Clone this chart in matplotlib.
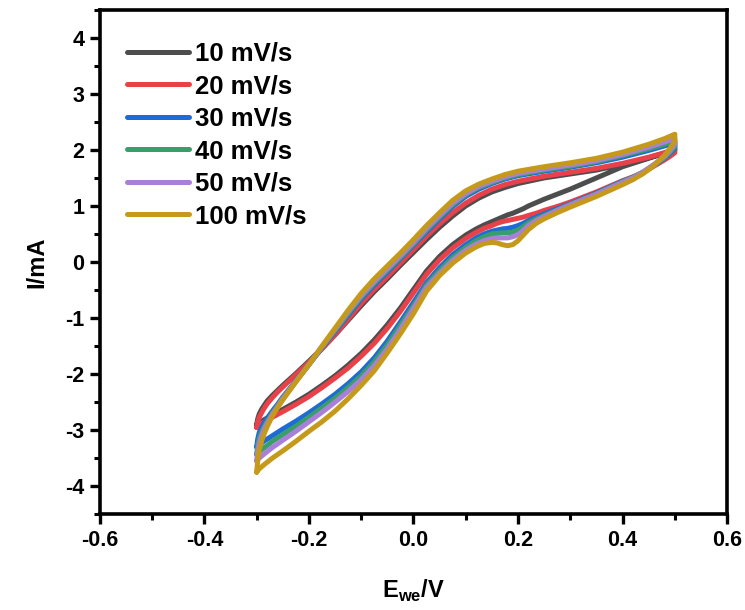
import numpy as np
import matplotlib.pyplot as plt
from matplotlib.ticker import MultipleLocator, FormatStrFormatter

plt.rcParams['font.family'] = ['Liberation Sans', 'DejaVu Sans']
plt.rcParams['font.weight'] = 'bold'
plt.rcParams['axes.unicode_minus'] = False

labels = ['10 mV/s', '20 mV/s', '30 mV/s', '40 mV/s', '50 mV/s', '100 mV/s']
colors = ['#4d4d4d', '#e8414a', '#1f6bd6', '#3a9e6b', '#a97fd8', '#c59a1a']

# forward branch (-0.3 -> 0.5)
x_fwd = [-0.3, -0.298, -0.295, -0.29, -0.285, -0.28, -0.27, -0.26, -0.25, -0.225,
         -0.2, -0.175, -0.15, -0.125, -0.1, -0.075, -0.05, -0.025, 0.0, 0.025,
         0.05, 0.075, 0.1, 0.125, 0.15, 0.175, 0.2, 0.25, 0.3, 0.35,
         0.4, 0.45, 0.48, 0.5]
i10_fwd = [-2.9, -2.8, -2.71, -2.62, -2.55, -2.48, -2.38, -2.29, -2.2, -1.99,
           -1.77, -1.54, -1.3, -1.04, -0.78, -0.53, -0.3, -0.06, 0.17, 0.4,
           0.62, 0.82, 1.0, 1.14, 1.25, 1.33, 1.4, 1.5, 1.57, 1.64,
           1.74, 1.86, 1.94, 2.0]
i20_fwd = [-2.95, -2.86, -2.77, -2.68, -2.6, -2.53, -2.42, -2.32, -2.23, -2.01,
           -1.79, -1.55, -1.3, -1.02, -0.74, -0.49, -0.26, -0.02, 0.22, 0.46,
           0.68, 0.88, 1.05, 1.19, 1.3, 1.38, 1.44, 1.53, 1.6, 1.67,
           1.76, 1.87, 1.95, 2.02]
i30_fwd = [-3.3, -3.16, -3.04, -2.94, -2.86, -2.79, -2.66, -2.54, -2.41, -2.12,
           -1.83, -1.53, -1.24, -0.95, -0.66, -0.41, -0.18, 0.06, 0.3, 0.54,
           0.77, 0.99, 1.17, 1.3, 1.4, 1.48, 1.54, 1.62, 1.69, 1.77,
           1.87, 1.99, 2.07, 2.12]
i40_fwd = [-3.43, -3.28, -3.14, -3.02, -2.93, -2.85, -2.7, -2.57, -2.43, -2.13,
           -1.83, -1.52, -1.22, -0.92, -0.63, -0.38, -0.15, 0.08, 0.32, 0.57,
           0.8, 1.02, 1.2, 1.33, 1.42, 1.5, 1.56, 1.64, 1.71, 1.79,
           1.9, 2.02, 2.1, 2.16]
i50_fwd = [-3.55, -3.38, -3.22, -3.08, -2.97, -2.88, -2.72, -2.58, -2.44, -2.13,
           -1.83, -1.51, -1.2, -0.89, -0.6, -0.35, -0.12, 0.11, 0.35, 0.6,
           0.83, 1.05, 1.22, 1.35, 1.44, 1.52, 1.58, 1.66, 1.73, 1.81,
           1.92, 2.05, 2.14, 2.2]
i100_fwd = [-3.75, -3.55, -3.35, -3.18, -3.05, -2.94, -2.75, -2.6, -2.46, -2.14,
            -1.83, -1.5, -1.18, -0.86, -0.56, -0.3, -0.07, 0.16, 0.4, 0.65,
            0.88, 1.1, 1.27, 1.39, 1.48, 1.56, 1.62, 1.7, 1.77, 1.85,
            1.96, 2.1, 2.2, 2.28]

# reverse branch (0.5 -> -0.3)
x_rev = [0.5, 0.49, 0.48, 0.46, 0.44, 0.42, 0.4, 0.35, 0.3, 0.275,
         0.25, 0.235, 0.22, 0.21, 0.2, 0.19, 0.18, 0.17, 0.16, 0.15,
         0.135, 0.12, 0.1, 0.075, 0.05, 0.025, 0.0, -0.025, -0.05, -0.075,
         -0.1, -0.125, -0.15, -0.175, -0.2, -0.225, -0.25, -0.27, -0.285, -0.295,
         -0.3]
i10_rev = [2.0, 1.97, 1.94, 1.88, 1.82, 1.76, 1.7, 1.5, 1.3, 1.21,
           1.12, 1.06, 1.0, 0.95, 0.91, 0.87, 0.84, 0.8, 0.76, 0.72,
           0.66, 0.59, 0.48, 0.31, 0.1, -0.16, -0.49, -0.82, -1.12, -1.39,
           -1.63, -1.84, -2.03, -2.2, -2.36, -2.5, -2.63, -2.73, -2.81, -2.87,
           -2.9]
i20_rev = [1.95, 1.88, 1.82, 1.71, 1.6, 1.52, 1.45, 1.25, 1.07, 0.99,
           0.92, 0.87, 0.83, 0.8, 0.78, 0.76, 0.74, 0.72, 0.69, 0.65,
           0.6, 0.53, 0.42, 0.25, 0.04, -0.22, -0.55, -0.88, -1.18, -1.45,
           -1.68, -1.89, -2.07, -2.24, -2.4, -2.54, -2.67, -2.77, -2.85, -2.91,
           -2.95]
i30_rev = [2.02, 1.93, 1.85, 1.72, 1.6, 1.51, 1.44, 1.23, 1.04, 0.95,
           0.86, 0.8, 0.74, 0.69, 0.65, 0.62, 0.6, 0.59, 0.57, 0.55,
           0.5, 0.43, 0.31, 0.13, -0.1, -0.37, -0.72, -1.07, -1.41, -1.71,
           -1.96, -2.17, -2.36, -2.53, -2.69, -2.84, -2.98, -3.1, -3.19, -3.26,
           -3.3]
i40_rev = [2.05, 1.95, 1.86, 1.73, 1.61, 1.51, 1.43, 1.22, 1.03, 0.93,
           0.83, 0.77, 0.7, 0.63, 0.57, 0.53, 0.52, 0.52, 0.51, 0.5,
           0.45, 0.38, 0.26, 0.08, -0.15, -0.41, -0.78, -1.13, -1.48, -1.78,
           -2.03, -2.24, -2.43, -2.6, -2.77, -2.93, -3.08, -3.2, -3.31, -3.38,
           -3.43]
i50_rev = [2.1, 1.98, 1.88, 1.74, 1.61, 1.5, 1.42, 1.21, 1.02, 0.92,
           0.81, 0.74, 0.65, 0.56, 0.49, 0.45, 0.43, 0.43, 0.43, 0.42,
           0.38, 0.32, 0.21, 0.03, -0.2, -0.45, -0.83, -1.2, -1.55, -1.85,
           -2.1, -2.31, -2.5, -2.68, -2.85, -3.02, -3.18, -3.31, -3.42, -3.5,
           -3.55]
i100_rev = [2.15, 2.02, 1.9, 1.72, 1.58, 1.47, 1.38, 1.17, 0.98, 0.88,
            0.77, 0.69, 0.58, 0.48, 0.38, 0.31, 0.29, 0.31, 0.34, 0.35,
            0.33, 0.27, 0.16, -0.02, -0.24, -0.52, -0.92, -1.28, -1.62, -1.94,
            -2.2, -2.44, -2.66, -2.85, -3.02, -3.2, -3.37, -3.5, -3.61, -3.69,
            -3.75]

fwd = [i10_fwd, i20_fwd, i30_fwd, i40_fwd, i50_fwd, i100_fwd]
rev = [i10_rev, i20_rev, i30_rev, i40_rev, i50_rev, i100_rev]

fig = plt.figure(figsize=(7.45, 6.1), dpi=100)
ax = fig.add_axes([0.134, 0.157, 0.842, 0.827])

for lab, col, f, r in zip(labels, colors, fwd, rev):
    xs = np.concatenate([x_fwd, x_rev])
    ys = np.concatenate([f, r])
    ax.plot(xs, ys, color=col, lw=3.6, label=lab, solid_joinstyle='round',
            solid_capstyle='round')

ax.set_xlim(-0.6, 0.6)
ax.set_ylim(-4.5, 4.5)
ax.xaxis.set_major_locator(MultipleLocator(0.2))
ax.xaxis.set_minor_locator(MultipleLocator(0.1))
ax.yaxis.set_major_locator(MultipleLocator(1))
ax.yaxis.set_minor_locator(MultipleLocator(0.5))
ax.xaxis.set_major_formatter(FormatStrFormatter('%.1f'))
ax.set_yticks([-4, -3, -2, -1, 0, 1, 2, 3, 4])

for s in ax.spines.values():
    s.set_linewidth(2.6)
ax.tick_params(which='major', direction='out', length=7, width=2.4,
               labelsize=15.5, pad=4)
ax.tick_params(which='minor', direction='out', length=4, width=2.2)
for t in ax.get_xticklabels() + ax.get_yticklabels():
    t.set_fontweight('bold')

ax.set_xlabel(r'E$_{\mathregular{we}}$/V', fontsize=17, fontweight='bold', labelpad=20)
ax.set_ylabel('I/mA', fontsize=17, fontweight='bold', labelpad=12)

leg = ax.legend(loc='upper left', frameon=False, fontsize=18.5, handlelength=2.4,
                handletextpad=0.25, labelspacing=0.33, borderaxespad=0,
                bbox_to_anchor=(0.027, 0.957))
for t in leg.get_texts():
    t.set_fontweight('bold')

fig.savefig('out.png', dpi=100)
